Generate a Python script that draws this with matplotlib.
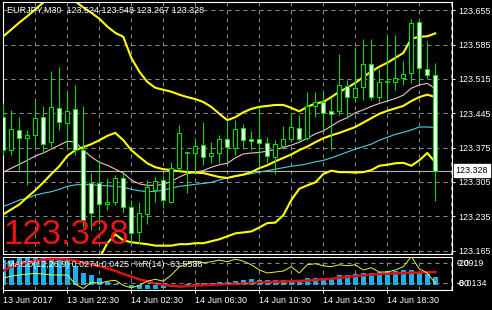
import numpy as np
import matplotlib.pyplot as plt
from matplotlib.patches import Rectangle
import matplotlib.transforms as mtransforms

plt.rcParams['font.family'] = ['Liberation Sans', 'DejaVu Sans']

W, H = 492, 310

# time axis (one candle = 30 min)
tick_idx = [0, 8, 16, 24, 32, 40, 48]
tick_labels = ["13 Jun 2017", "13 Jun 22:30", "14 Jun 02:30", "14 Jun 06:30",
               "14 Jun 10:30", "14 Jun 14:30", "14 Jun 18:30"]
price_ticks = [123.165, 123.235, 123.305, 123.375, 123.445, 123.515, 123.585, 123.655]
last_price = 123.328

# EURJPY M30 candles
opens = [123.437, 123.371, 123.411, 123.394, 123.401, 123.437, 123.387, 123.455, 123.425, 123.453,
         123.370, 123.302, 123.302, 123.259, 123.264, 123.312, 123.254, 123.202, 123.239, 123.288,
         123.309, 123.264, 123.333, 123.363, 123.364, 123.380, 123.358, 123.365, 123.392, 123.375,
         123.414, 123.392, 123.392, 123.385, 123.355, 123.379, 123.392, 123.416, 123.394, 123.459,
         123.469, 123.450, 123.450, 123.501, 123.479, 123.498, 123.546, 123.479, 123.508, 123.508,
         123.516, 123.527, 123.631, 123.535, 123.524]
highs = [123.466, 123.452, 123.438, 123.411, 123.470, 123.459, 123.532, 123.540, 123.489, 123.503,
         123.459, 123.323, 123.349, 123.313, 123.319, 123.325, 123.268, 123.264, 123.309, 123.315,
         123.319, 123.346, 123.421, 123.367, 123.394, 123.428, 123.387, 123.401, 123.431, 123.431,
         123.423, 123.409, 123.458, 123.397, 123.390, 123.419, 123.445, 123.442, 123.488, 123.489,
         123.493, 123.476, 123.566, 123.513, 123.580, 123.597, 123.597, 123.535, 123.605, 123.605,
         123.551, 123.637, 123.636, 123.592, 123.548]
lows = [123.359, 123.360, 123.329, 123.298, 123.377, 123.366, 123.377, 123.411, 123.370, 123.360,
        123.213, 123.206, 123.220, 123.247, 123.257, 123.241, 123.179, 123.179, 123.220, 123.264,
        123.251, 123.261, 123.329, 123.283, 123.322, 123.339, 123.343, 123.344, 123.346, 123.360,
        123.373, 123.370, 123.336, 123.343, 123.322, 123.372, 123.387, 123.387, 123.390, 123.438,
        123.411, 123.370, 123.441, 123.435, 123.472, 123.472, 123.472, 123.469, 123.472, 123.493,
        123.503, 123.506, 123.506, 123.517, 123.267]
closes = [123.370, 123.412, 123.394, 123.400, 123.435, 123.382, 123.457, 123.428, 123.450, 123.370,
          123.228, 123.241, 123.259, 123.264, 123.312, 123.254, 123.201, 123.241, 123.295, 123.307,
          123.268, 123.333, 123.404, 123.366, 123.379, 123.356, 123.363, 123.393, 123.376, 123.412,
          123.390, 123.388, 123.385, 123.358, 123.382, 123.393, 123.418, 123.392, 123.459, 123.469,
          123.445, 123.443, 123.503, 123.478, 123.496, 123.546, 123.479, 123.509, 123.509, 123.516,
          123.525, 123.630, 123.537, 123.523, 123.328]

# bollinger bands
bb_upper = [123.602, 123.616, 123.630, 123.643, 123.657, 123.671, 123.685, 123.697, 123.687, 123.673,
            123.661, 123.650, 123.638, 123.622, 123.609, 123.601, 123.558, 123.530, 123.509, 123.497,
            123.493, 123.489, 123.483, 123.478, 123.474, 123.468, 123.458, 123.444, 123.431, 123.437,
            123.447, 123.454, 123.458, 123.460, 123.462, 123.462, 123.456, 123.449, 123.458, 123.465,
            123.468, 123.478, 123.489, 123.497, 123.507, 123.519, 123.530, 123.540, 123.548, 123.558,
            123.568, 123.597, 123.601, 123.602, 123.608]
bb_middle = [123.239, 123.249, 123.259, 123.274, 123.288, 123.304, 123.321, 123.337, 123.358, 123.370,
             123.376, 123.382, 123.390, 123.399, 123.405, 123.390, 123.370, 123.356, 123.343, 123.335,
             123.331, 123.329, 123.327, 123.325, 123.324, 123.323, 123.319, 123.315, 123.313, 123.317,
             123.320, 123.325, 123.333, 123.339, 123.347, 123.354, 123.361, 123.370, 123.377, 123.386,
             123.394, 123.400, 123.405, 123.411, 123.417, 123.426, 123.435, 123.444, 123.450, 123.455,
             123.460, 123.470, 123.478, 123.483, 123.478]
bb_lower = [122.879, 122.883, 122.889, 122.903, 122.920, 122.938, 122.956, 122.977, 123.028, 123.067,
            123.092, 123.114, 123.149, 123.180, 123.198, 123.186, 123.182, 123.180, 123.178, 123.175,
            123.175, 123.175, 123.178, 123.178, 123.180, 123.180, 123.184, 123.188, 123.194, 123.200,
            123.202, 123.204, 123.212, 123.221, 123.222, 123.237, 123.268, 123.291, 123.298, 123.304,
            123.321, 123.328, 123.325, 123.325, 123.324, 123.325, 123.329, 123.338, 123.340, 123.343,
            123.344, 123.338, 123.349, 123.364, 123.345]
# moving averages
ma_fast = [123.325, 123.333, 123.341, 123.349, 123.358, 123.364, 123.372, 123.380, 123.388, 123.386,
           123.370, 123.356, 123.345, 123.339, 123.331, 123.323, 123.309, 123.301, 123.298, 123.298,
           123.300, 123.306, 123.315, 123.322, 123.325, 123.328, 123.335, 123.340, 123.343, 123.354,
           123.362, 123.364, 123.365, 123.368, 123.371, 123.375, 123.380, 123.386, 123.394, 123.403,
           123.409, 123.419, 123.429, 123.436, 123.446, 123.452, 123.459, 123.465, 123.470, 123.475,
           123.482, 123.496, 123.503, 123.506, 123.495]
ma_slow = [123.255, 123.261, 123.268, 123.272, 123.278, 123.282, 123.285, 123.290, 123.296, 123.299,
           123.300, 123.299, 123.298, 123.297, 123.296, 123.294, 123.290, 123.287, 123.285, 123.286,
           123.288, 123.292, 123.296, 123.298, 123.300, 123.302, 123.304, 123.309, 123.313, 123.316,
           123.319, 123.322, 123.325, 123.328, 123.331, 123.334, 123.337, 123.339, 123.342, 123.346,
           123.349, 123.354, 123.360, 123.366, 123.372, 123.377, 123.382, 123.390, 123.396, 123.402,
           123.406, 123.411, 123.417, 123.417, 123.416]

# MACD(12,26,9) and %R(14)
macd_main = [0.080, 0.082, 0.086, 0.087, 0.088, 0.091, 0.090, 0.087, 0.076, 0.062,
             0.040, 0.033, 0.022, 0.011, 0.005, 0.002, -0.004, -0.011, -0.013, -0.012,
             -0.010, -0.005, 0.001, 0.003, 0.004, 0.006, 0.008, 0.009, 0.011, 0.014,
             0.018, 0.019, 0.018, 0.016, 0.018, 0.018, 0.016, 0.018, 0.022, 0.024,
             0.024, 0.024, 0.032, 0.032, 0.035, 0.040, 0.038, 0.042, 0.046, 0.046,
             0.049, 0.050, 0.044, 0.036, 0.0274]
macd_signal = [0.047, 0.059, 0.067, 0.074, 0.078, 0.082, 0.084, 0.084, 0.082, 0.079,
               0.072, 0.067, 0.061, 0.054, 0.046, 0.036, 0.028, 0.019, 0.013, 0.006,
               0.002, -0.001, -0.004, -0.003, -0.001, 0.000, 0.002, 0.003, 0.004, 0.005,
               0.006, 0.007, 0.009, 0.010, 0.011, 0.012, 0.013, 0.014, 0.015, 0.017,
               0.019, 0.021, 0.024, 0.027, 0.029, 0.032, 0.034, 0.036, 0.037, 0.038,
               0.039, 0.040, 0.0405, 0.0415, 0.0425]
wpr = [-65.6, -59.4, -56, -53, -51.6, -53, -56, -56, -56, -84,
       -97, -78, -81, -75, -72, -87.5, -95, -87.5, -75, -69,
       -75, -56, -31, -22, -14, -19, -16, -11, -16, -8,
       -14, -25, -41, -50, -47, -44, -31, -50, -25, -22,
       -28, -31, -25, -28, -25, -41, -34, -47, -47, -41,
       -31, 0, -37.5, -50, -81]

idx = np.arange(len(opens))
green = '#00e000'
grid_kw = dict(color='#8a8a8a', lw=0.72, ls=(0, (4, 4)), zorder=0)


def px_axes(x0, y0, x1, y1):
    return fig.add_axes([x0 / W, 1 - y1 / H, (x1 - x0) / W, (y1 - y0) / H])


fig = plt.figure(figsize=(W / 100, H / 100), dpi=100, facecolor='black')

# ---- main chart
ax = px_axes(3, 1.5, 452, 253.5)
ax.set_facecolor('black')
ax.set_xlim(-0.04, 56.09)
ax.set_ylim(123.159, 123.673)
for s in ax.spines.values():
    s.set_color('white')
    s.set_linewidth(0.8)

for gx in range(4, 57, 4):
    ax.axvline(gx, **grid_kw)
for p in price_ticks:
    ax.axhline(p, **grid_kw)

ax.axhline(last_price, color='#b4b4b4', lw=0.8, zorder=1)

ax.plot(idx, ma_slow, color='#4fd0e0', lw=0.8, zorder=2)
ax.plot(idx, ma_fast, color='#f4c0c8', lw=0.8, zorder=2)
for band in (bb_upper, bb_middle, bb_lower):
    ax.plot(idx, band, color='#ffff00', lw=1.5, zorder=2)

for i in idx:
    o, h, l, c = opens[i], highs[i], lows[i], closes[i]
    ax.vlines(i, l, h, color=green, lw=0.8, zorder=3)
    if abs(c - o) < 0.0035:
        ax.hlines((o + c) / 2, i - 0.3, i + 0.3, color=green, lw=1.2, zorder=4)
    else:
        face = 'white' if c < o else 'black'
        ax.add_patch(Rectangle((i - 0.26, min(o, c)), 0.52, abs(c - o),
                               facecolor=face, edgecolor=green, lw=0.8, zorder=4))

ax.set_xticks([])
ax.yaxis.tick_right()
ax.set_yticks(price_ticks)
ax.set_yticklabels([f"{p:.3f}" for p in price_ticks])
ax.tick_params(axis='y', colors='white', length=2.2, width=0.7, pad=2.2, labelsize=6.4)

trans = mtransforms.blended_transform_factory(ax.transAxes, ax.transData)
ax.text(1.008, last_price, f"{last_price:.3f}", transform=trans, ha='left', va='center',
        color='black', fontsize=6.4, clip_on=False, zorder=6,
        bbox=dict(facecolor='white', edgecolor='white', pad=1.2))

fig.text(7 / W, 1 - 10 / H, "EURJPY,M30  123.524 123.548 123.267 123.328",
         color='white', fontsize=6.5, va='center', ha='left')
fig.text(3 / W, 1 - 244 / H, f"{last_price:.3f}", color='#ee1515', fontsize=25,
         va='baseline', ha='left')

# ---- MACD / %R window
sub = px_axes(3, 256.5, 452, 289.5)
sub.set_facecolor('black')
sub.set_xlim(-0.04, 56.09)
sub.set_ylim(-0.0134, 0.0919)
for s in sub.spines.values():
    s.set_color('white')
    s.set_linewidth(0.8)
for gx in range(4, 57, 4):
    sub.axvline(gx, **grid_kw)

sub.bar(idx, macd_main, width=0.6, color='#14b4f0', zorder=2)
sub.plot(idx, macd_signal, color='#e01010', lw=1.8, zorder=3)
sub.set_yticks([])
sub.set_xticks(tick_idx)
sub.set_xticklabels(tick_labels, ha='left')
sub.tick_params(axis='x', colors='white', length=2.2, width=0.7, pad=2.2, labelsize=6.4)

wr = sub.twinx()
wr.set_ylim(-100, 0)
wr.set_xlim(-0.04, 56.09)
for lvl in (-20, -80):
    wr.axhline(lvl, **grid_kw)
wr.plot(idx, wpr, color='#f0f040', lw=0.7, zorder=4)
wr.set_yticks([])
for s in wr.spines.values():
    s.set_visible(False)

fig.text(7 / W, 1 - 264.5 / H, "MACD(12,26,9) 0.0274 0.0425  %R(14) -63.5588",
         color='white', fontsize=6.4, va='center', ha='left')
# the two indicator scales share the same right-hand spot, as in the terminal
for txt, yy in (("0.0919", 263), ("-20", 263), ("-0.0134", 284), ("-80", 284)):
    fig.text(457 / W, 1 - yy / H, txt, color='white', fontsize=6.4, va='center', ha='left')

fig.savefig("out.png", dpi=100, facecolor='black')
